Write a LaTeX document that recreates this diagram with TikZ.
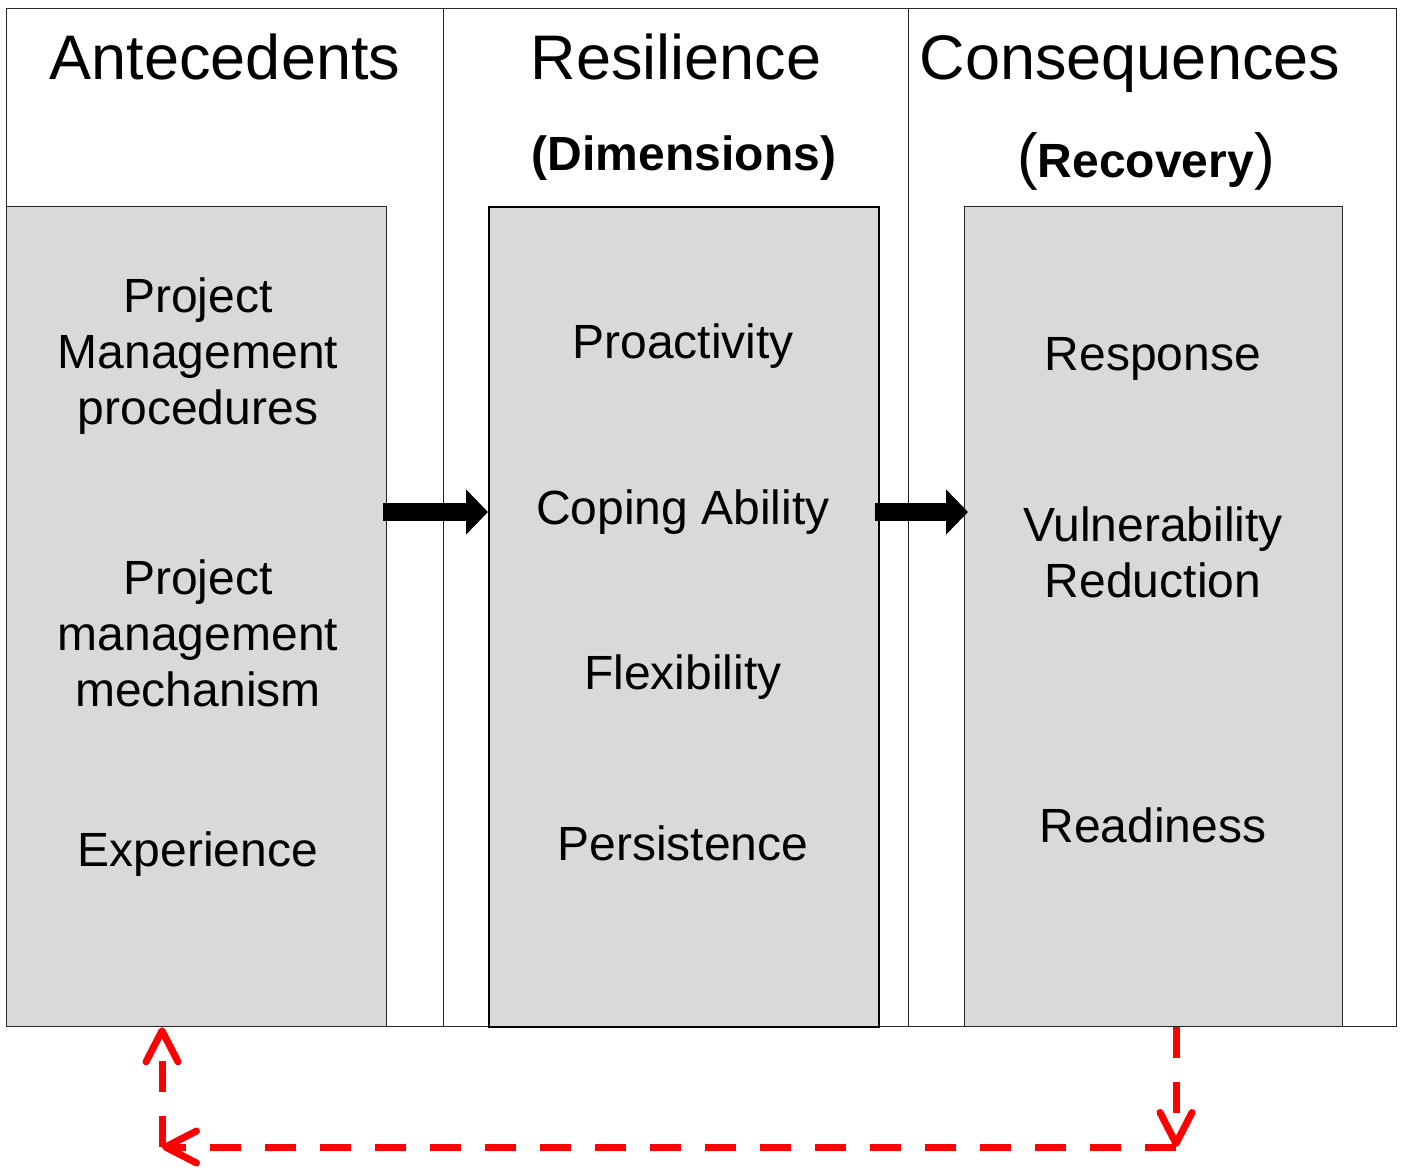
\documentclass[tikz,border=0pt]{standalone}
\usepackage{fontspec}
\setmainfont{Liberation Sans}
\usetikzlibrary{arrows.meta}
\tikzset{>=latex}
\definecolor{boxgray}{RGB}{217,217,217}
\tikzset{
  column/.style={draw=black!85, line width=1.3pt, minimum width=#1, minimum height=1018pt, inner sep=0pt, anchor=north west},
  panel/.style={draw=black!85, fill=boxgray, line width=1.3pt, minimum width=#1, minimum height=820pt, inner sep=0pt, anchor=north west},
  item/.style={align=center, inner sep=0pt, font=\fontsize{48}{56}\selectfont},
  head/.style={inner sep=0pt, anchor=base, font=\fontsize{63}{70}\selectfont},
  sub/.style={inner sep=0pt, anchor=base, font=\fontsize{48}{60}\selectfont\bfseries},
  flow/.style={line width=18pt, -{Triangle[length=22pt,width=44pt]}},
  feedback/.style={red, line width=7pt, dash pattern=on 31pt off 24pt, -{Straight Barb[length=31pt,width=32pt,line cap=round,line join=round]}}
}
\newcommand{\bigparen}[1]{{\fontsize{62}{70}\selectfont\mdseries#1}}
\begin{document}
\begin{tikzpicture}[x=1pt, y=-1pt]
    \useasboundingbox (0, 0) rectangle (1402, 1169);
    \node[column=437pt] (colA) at (6, 8) {};
    \node[column=465pt] (colR) at (443, 8) {};
    \node[column=488pt] (colC) at (908, 8) {};
    \node[panel=380pt] (ante) at (6, 206) {};
    \node[panel=390pt, line width=2.4pt, draw=black] (resil) at (488, 206) {};
    \node[panel=378pt] (conseq) at (964, 206) {};
    \node[head] (hA) at (225, 80) {Antecedents};
    \node[head] (hR) at (676, 80) {Resilience};
    \node[head] (hC) at (1130, 80) {Consequences};
    \node[sub] (sR) at (684, 171) {(Dimensions)};
    \node[sub] (sC) at (1146, 178) {\bigparen{(}Recovery\bigparen{)}};
    \node[item] (a1) at (198, 356) {Project\\Management\\procedures};
    \node[item] (a2) at (198, 633) {Project\\management\\mechanism};
    \node[item] (a3) at (198, 854) {Experience};
    \node[item] (r1) at (683, 346) {Proactivity};
    \node[item] (r2) at (683, 512) {Coping Ability};
    \node[item] (r3) at (683, 677) {Flexibility};
    \node[item] (r4) at (683, 843) {Persistence};
    \node[item] (c1) at (1153, 359) {Response};
    \node[item] (c2) at (1153, 552) {Vulnerability\\Reduction};
    \node[item] (c3) at (1153, 825) {Readiness};
    \coordinate (fbR) at (1176, 1147);
    \coordinate (fbL) at (162, 1147);
    \coordinate (gapA) at (383, 512);
    \coordinate (gapB) at (875, 512);
    \coordinate (tipB) at (968, 512);
    \draw[flow] (gapA) -- (resil.west |- gapA);
    \draw[flow] (gapB) -- (tipB);
    \draw[feedback] (conseq.south -| fbR) -- (fbR);
    \draw[feedback] (fbR) -- (fbL);
    \draw[feedback] (fbL) -- (ante.south -| fbL);
\end{tikzpicture}
\end{document}
